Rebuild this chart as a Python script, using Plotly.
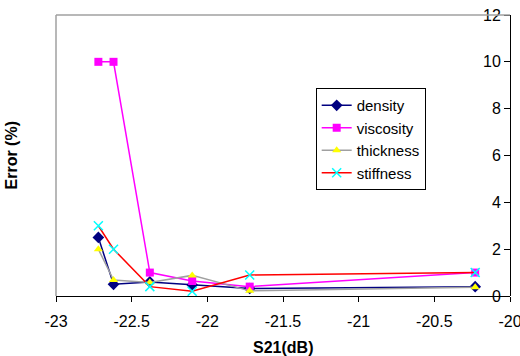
import plotly.graph_objects as go

s21 = [-22.72, -22.62, -22.38, -22.10, -21.72, -20.23]
density = [2.5, 0.5, 0.6, 0.47, 0.32, 0.4]
viscosity = [10, 10, 1.0, 0.64, 0.4, 1.0]
thickness = [2.0, 0.68, 0.58, 0.88, 0.22, 0.37]
stiffness = [3.0, 2.0, 0.4, 0.2, 0.9, 1.0]

x_ticks = [-23, -22.5, -22, -21.5, -21, -20.5, -20]
x_ticklabels = ["-23", "-22.5", "-22", "-21.5", "-21", "-20.5", "-20"]
y_ticks = [0, 2, 4, 6, 8, 10, 12]

FONT = "Liberation Sans, Arial, sans-serif"

fig = go.Figure()
fig.add_trace(go.Scatter(x=s21, y=density, name="density", mode="lines+markers",
                         line=dict(color="#000080", width=1.5),
                         marker=dict(symbol="diamond", size=9, color="#000080")))
fig.add_trace(go.Scatter(x=s21, y=viscosity, name="viscosity", mode="lines+markers",
                         line=dict(color="#FF00FF", width=1.5),
                         marker=dict(symbol="square", size=8, color="#FF00FF")))
fig.add_trace(go.Scatter(x=s21, y=thickness, name="thickness", mode="lines+markers",
                         line=dict(color="#A0A0A0", width=1.5),
                         marker=dict(symbol="triangle-up", size=8, color="#FFFF00")))
fig.add_trace(go.Scatter(x=s21, y=stiffness, name="stiffness", mode="lines+markers",
                         line=dict(color="#FF0000", width=1.5),
                         marker=dict(symbol="x-thin", size=9, color="#00FFFF",
                                     line=dict(color="#00FFFF", width=1.5))))

fig.update_layout(
    width=520, height=356,
    margin=dict(l=56, r=10, t=15, b=60, autoexpand=False),
    paper_bgcolor="white", plot_bgcolor="white",
    font=dict(family=FONT, size=16, color="black"),
    showlegend=True,
    legend=dict(x=0.572, y=0.74, xanchor="left", yanchor="top",
                bgcolor="white", bordercolor="black", borderwidth=1,
                font=dict(size=15), tracegroupgap=0, itemwidth=30),
    xaxis=dict(range=[-23, -20], tickvals=x_ticks, ticktext=x_ticklabels,
               showgrid=False, zeroline=False, automargin=False,
               showline=True, linecolor="black", linewidth=1,
               ticks="outside", ticklen=5, tickcolor="black",
               ticklabeloverflow="allow", ticklabelstandoff=6,
               tickfont=dict(size=16)),
    yaxis=dict(range=[0, 12], tickvals=y_ticks, showgrid=False, zeroline=False,
               anchor="free", position=1, side="left", automargin=False,
               showline=True, linecolor="black", linewidth=1,
               ticks="outside", ticklen=6, tickcolor="black",
               ticklabeloverflow="allow",
               tickfont=dict(size=16)),
    shapes=[
        dict(type="line", xref="paper", yref="paper", x0=0, x1=1, y0=1, y1=1,
             line=dict(color="#A0A0A0", width=1.5)),
        dict(type="line", xref="paper", yref="paper", x0=0, x1=0, y0=0, y1=1,
             line=dict(color="#A0A0A0", width=1.5)),
    ],
    annotations=[
        dict(text="<b>Error (%)</b>", xref="paper", yref="paper", x=-0.097, y=0.5,
             textangle=-90, showarrow=False, font=dict(size=16),
             xanchor="center", yanchor="middle"),
        dict(text="<b>S21(dB)</b>", xref="paper", yref="paper", x=0.5, y=-0.185,
             showarrow=False, font=dict(size=16), xanchor="center", yanchor="middle"),
    ],
)

fig.write_html("out.html")
